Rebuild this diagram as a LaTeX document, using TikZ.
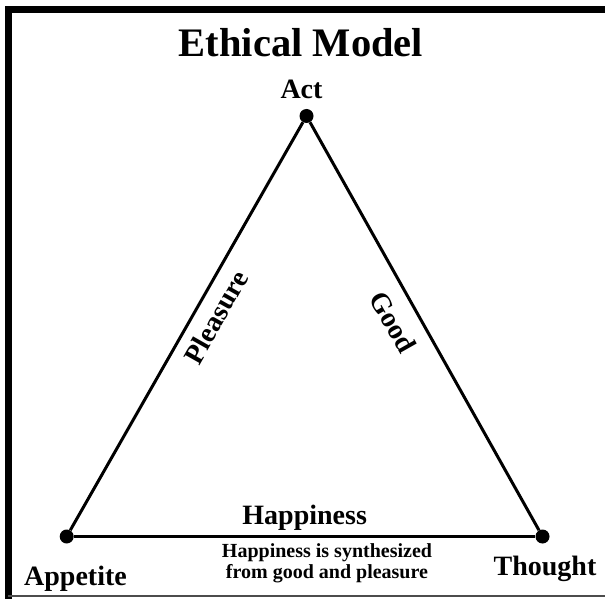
\documentclass[tikz,border=0pt]{standalone}
\usepackage{fontspec}
\setmainfont{Liberation Serif}
\tikzset{
	vertex/.style={circle,fill=black,inner sep=0pt,minimum size=14pt},
	side/.style={line width=3pt},
	label28/.style={font=\bfseries\fontsize{28}{28}\selectfont,inner sep=0pt},
}
\begin{document}
\begin{tikzpicture}[x=1pt,y=1pt]
		\useasboundingbox (0,0) rectangle (605,598);
	
		% frame
		\draw[line width=7pt] (8,-1) -- (8,588.5) -- (606,588.5);
		\draw[line width=1.5pt,black!70] (8,2) -- (606,2);
		
		\node[anchor=base,font=\bfseries\fontsize{40.5}{40.5}\selectfont,inner sep=0pt] (title) at (301,541){Ethical Model};
		
		\node[vertex] (act) at (306.5,482){};
		\node[vertex] (appetite) at (66.7,61.5){};
		\node[vertex] (thought) at (542.5,61.5){};
		
		\draw[side] (appetite) -- (act);
		\draw[side] (act) -- (thought);
		\draw[side] (appetite) -- (thought);
		
		\node[label28,anchor=base] (act label) at (301.5,499){Act};
		\node[label28,anchor=base] (appetite label) at (75.5,13){Appetite};
		\node[label28,anchor=base] (thought label) at (545,23){Thought};
		\node[label28,anchor=base] (happiness) at (304.7,74){Happiness};
		
		\node[label28,rotate=60.5] (pleasure) at (216,281){Pleasure};
		\node[label28,rotate=-60.5] (good) at (393,276){Good};
		
		\node[anchor=base,font=\bfseries\fontsize{20}{21}\selectfont,inner sep=0pt,align=center] (note) at (327,20){Happiness is synthesized\\from good and pleasure};
	\end{tikzpicture}
\end{document}
